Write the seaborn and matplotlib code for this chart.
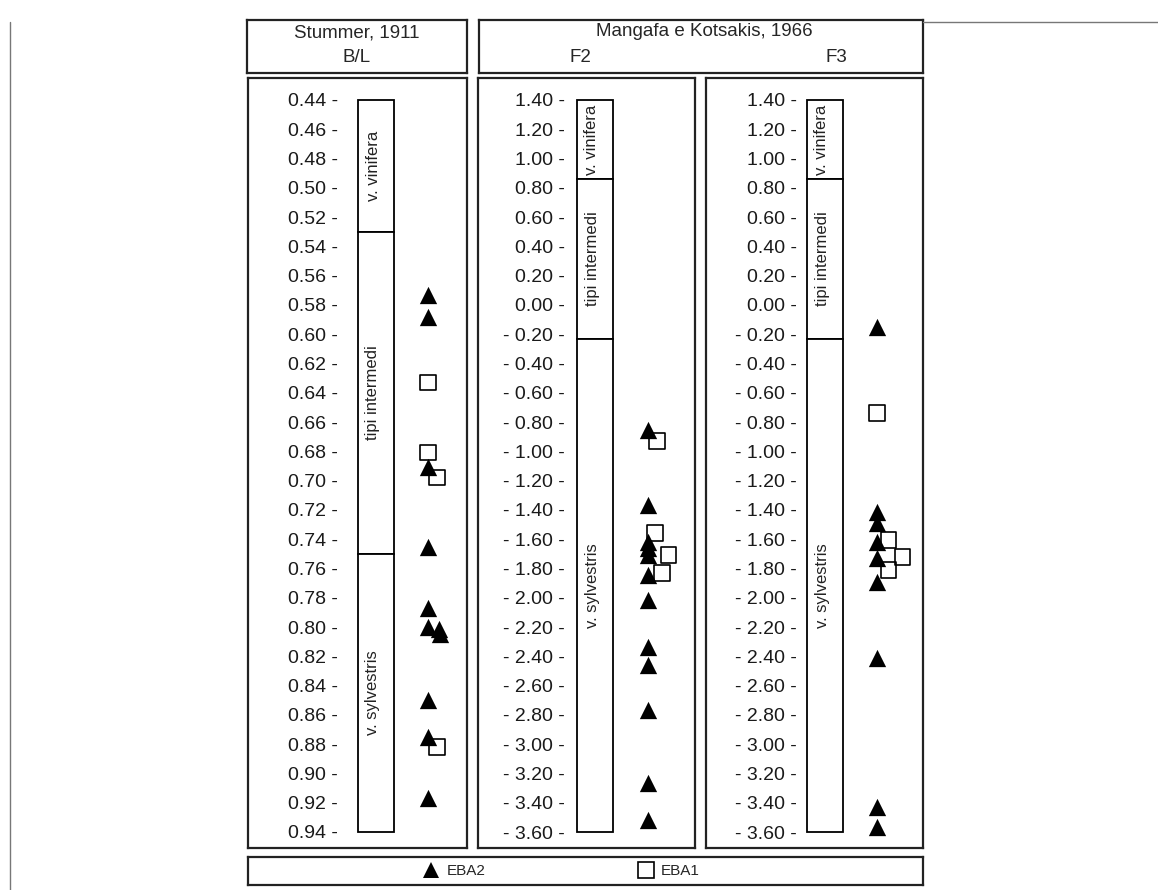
import matplotlib
matplotlib.use('Agg')
import matplotlib.pyplot as plt
from matplotlib.lines import Line2D
import pandas as pd
import seaborn as sns

# values
class_names = ['v. vinifera', 'tipi intermedi', 'v. sylvestris']

# Stummer, 1911 - B/L
bl_ticks = [0.44, 0.46, 0.48, 0.50, 0.52, 0.54, 0.56, 0.58, 0.60, 0.62, 0.64, 0.66, 0.68,
            0.70, 0.72, 0.74, 0.76, 0.78, 0.80, 0.82, 0.84, 0.86, 0.88, 0.90, 0.92, 0.94]
bl_bounds = [0.44, 0.53, 0.75, 0.94]
bl_eba2 = [0.573, 0.588, 0.691, 0.745, 0.787, 0.800, 0.801, 0.805, 0.850, 0.875, 0.917]
bl_eba2_lane = [0, 0, 0, 0, 0, 0, 1.6, 1.7, 0, 0, 0]
bl_eba1 = [0.633, 0.681, 0.698, 0.882]
bl_eba1_lane = [0, 0, 1.3, 1.3]

# Mangafa e Kotsakis, 1966 - F2 / F3
f_ticks = [1.40, 1.20, 1.00, 0.80, 0.60, 0.40, 0.20, 0.00, -0.20, -0.40, -0.60, -0.80, -1.00,
           -1.20, -1.40, -1.60, -1.80, -2.00, -2.20, -2.40, -2.60, -2.80, -3.00, -3.20, -3.40, -3.60]
f_bounds = [1.40, 0.86, -0.23, -3.60]

f2_eba2 = [-0.854, -1.366, -1.619, -1.660, -1.708, -1.845, -2.016, -2.337, -2.460, -2.767, -3.265, -3.518]
f2_eba2_lane = [0] * len(f2_eba2)
f2_eba1 = [-0.929, -1.558, -1.708, -1.831]
f2_eba1_lane = [1.3, 1.0, 2.9, 2.0]

f3_eba2 = [-0.151, -1.414, -1.489, -1.619, -1.728, -1.892, -2.412, -3.429, -3.566]
f3_eba2_lane = [0] * len(f3_eba2)
f3_eba1 = [-0.738, -1.605, -1.722, -1.810]
f3_eba1_lane = [0, 1.6, 3.6, 1.6]

W, H = 1158, 890
LANE = 7  # px per lane step

sns.set_style('white')
plt.rcParams['font.family'] = ['Liberation Sans', 'DejaVu Sans']

fig = plt.figure(figsize=(W / 100, H / 100), dpi=100)


def rect(x0, y0, x1, y1):
    return [x0 / W, 1 - y1 / H, (x1 - x0) / W, (y1 - y0) / H]


def box_axes(x0, y0, x1, y1):
    ax = fig.add_axes(rect(x0, y0, x1, y1))
    ax.set_xticks([])
    ax.set_yticks([])
    for sp in ax.spines.values():
        sp.set_visible(True)
        sp.set_color('#222222')
        sp.set_linewidth(1.6)
    return ax


def fmt(v):
    if v < -1e-9:
        return f'- {abs(v):.2f} -'
    return f'{v:.2f} -'


panels = [
    dict(box=(248, 467), bar=128, col=180, lab=90, ticks=bl_ticks, bounds=bl_bounds,
         eba2=bl_eba2, eba2_lane=bl_eba2_lane, eba1=bl_eba1, eba1_lane=bl_eba1_lane),
    dict(box=(478, 695), bar=117, col=170, lab=87, ticks=f_ticks, bounds=f_bounds,
         eba2=f2_eba2, eba2_lane=f2_eba2_lane, eba1=f2_eba1, eba1_lane=f2_eba1_lane),
    dict(box=(706, 923), bar=119, col=171, lab=91, ticks=f_ticks, bounds=f_bounds,
         eba2=f3_eba2, eba2_lane=f3_eba2_lane, eba1=f3_eba1, eba1_lane=f3_eba1_lane),
]

top_px, bot_px = 78, 848
first_px, last_px = 100, 832

for p in panels:
    x0, x1 = p['box']
    ax = box_axes(x0, top_px, x1, bot_px)
    ticks = p['ticks']
    per_px = (ticks[-1] - ticks[0]) / (last_px - first_px)
    ax.set_xlim(0, x1 - x0)
    ax.set_ylim(ticks[-1] + per_px * (bot_px - last_px), ticks[0] - per_px * (first_px - top_px))

    ax.set_yticks(ticks)
    ax.set_yticklabels([fmt(t) for t in ticks])
    ax.tick_params(axis='y', length=0, pad=-p['lab'] * 0.72, labelsize=14, labelcolor='#1a1a1a')

    # classification column
    b = p['bounds']
    for i, name in enumerate(class_names):
        lo, hi = b[i], b[i + 1]
        ax.bar(p['bar'], hi - lo, bottom=lo, width=36, facecolor='white',
               edgecolor='black', linewidth=1.3, zorder=2)
        ax.text(p['bar'] - 3, (lo + hi) / 2, name, rotation=90, ha='center', va='center',
                fontsize=12, color='#222222', zorder=3)

    sq = pd.DataFrame({'value': p['eba1'], 'lane': p['eba1_lane']})
    sq['x'] = p['col'] + sq['lane'] * LANE
    tri = pd.DataFrame({'value': p['eba2'], 'lane': p['eba2_lane']})
    tri['x'] = p['col'] + tri['lane'] * LANE

    sns.scatterplot(data=sq, x='x', y='value', marker='s', s=120, facecolor='none',
                    edgecolor='black', linewidth=1.2, ax=ax, zorder=4, legend=False)
    sns.scatterplot(data=tri, x='x', y='value', marker='^', s=155, color='black',
                    edgecolor='black', linewidth=0, ax=ax, zorder=5, legend=False)
    ax.set(xlabel='', ylabel='')
    ax.set_xticks([])

# header boxes
h1 = box_axes(247, 20, 467, 73)
h1.text(0.5, 0.75, 'Stummer, 1911', ha='center', va='center', fontsize=13.5, transform=h1.transAxes)
h1.text(0.5, 0.3, 'B/L', ha='center', va='center', fontsize=13.5, transform=h1.transAxes)

h2 = box_axes(479, 20, 923, 73)
h2.text((704 - 479) / 444, 0.78, 'Mangafa e Kotsakis, 1966', ha='center', va='center',
        fontsize=13.5, transform=h2.transAxes)
h2.text((580 - 479) / 444, 0.3, 'F2', ha='center', va='center', fontsize=13.5, transform=h2.transAxes)
h2.text((836 - 479) / 444, 0.3, 'F3', ha='center', va='center', fontsize=13.5, transform=h2.transAxes)

# legend
lg = box_axes(248, 857, 923, 885)
handles = [
    Line2D([], [], marker='^', ls='none', color='black', markersize=12, markeredgewidth=0),
    Line2D([], [], marker='s', ls='none', markerfacecolor='none', markeredgecolor='black',
           markersize=11, markeredgewidth=1.2),
]
lg.legend(handles, ['EBA2', 'EBA1'], ncol=2, loc='center', bbox_to_anchor=(0.465, 0.5),
          frameon=False, fontsize=11, handlelength=1.0, handletextpad=0.5,
          columnspacing=10, borderpad=0, borderaxespad=0)

# page frame lines
fig.add_artist(Line2D([10 / W, 10 / W], [1 - 22 / H, 0], transform=fig.transFigure,
                      color='#777777', linewidth=1))
fig.add_artist(Line2D([923 / W, 1], [1 - 22 / H, 1 - 22 / H], transform=fig.transFigure,
                      color='#777777', linewidth=1))

fig.savefig('out.png', dpi=100)
